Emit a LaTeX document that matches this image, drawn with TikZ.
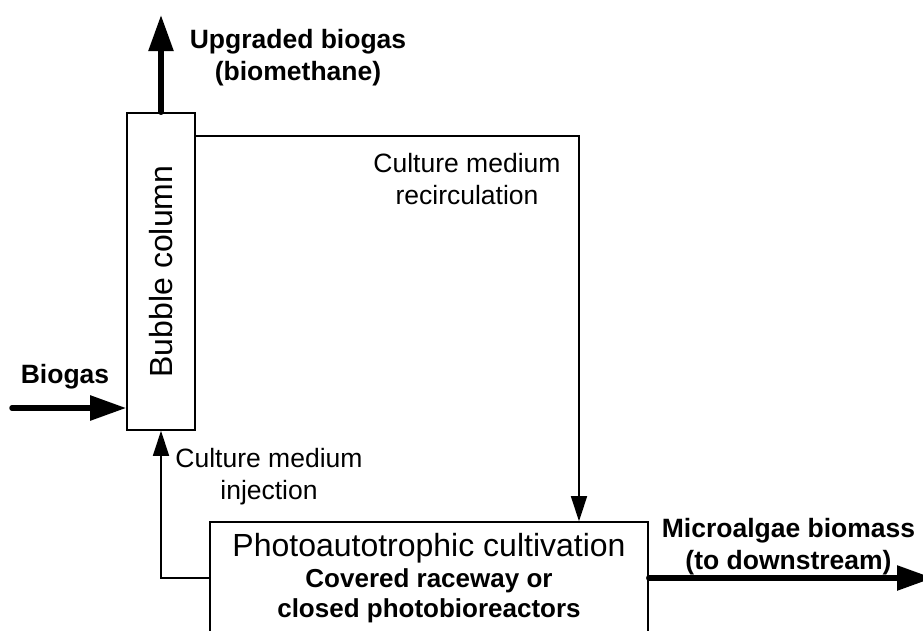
\documentclass[tikz,border=0pt]{standalone}
\usepackage{fontspec}
\setmainfont{Liberation Sans}
\usetikzlibrary{arrows.meta}
\begin{document}
\begin{tikzpicture}[x=1pt,y=-1pt,
  box/.style={draw,line width=1.6pt,inner sep=0pt,fill=white},
  flow/.style={line width=1.6pt,-{Triangle[length=25pt,width=16pt]}},
  mainflow/.style={line width=5.5pt,line cap=round,-{Triangle[length=36pt,width=24pt]}},
  lbl/.style={align=center,inner sep=0pt,font=\fontsize{26.5}{32}\selectfont},
  blbl/.style={align=center,inner sep=0pt,font=\fontsize{26.5}{32}\selectfont\bfseries}]
\useasboundingbox (0,0) rectangle (923,630);

% process units
\node[box,minimum width=68pt,minimum height=317pt] (bubble) at (161,271.5)
  {\rotatebox{90}{\fontsize{32}{38}\selectfont Bubble column}};
\node[box,minimum width=438pt,minimum height=200pt] (photo) at (429,622) {};
\node[inner sep=0pt,font=\fontsize{32}{38}\selectfont] (phototitle) at (429,548.5)
  {Photoautotrophic cultivation};
\node[align=center,inner sep=0pt,font=\fontsize{26}{30}\selectfont\bfseries] (photosub) at (429,595.5)
  {Covered raceway or\\closed photobioreactors};

% stream end points
\coordinate (upout) at (161,15);
\coordinate (bgin) at (12,408);
\coordinate (rc) at (579,136);
\coordinate (ij) at (161,578);
\coordinate (mout) at (933,578);

% streams
\draw[mainflow] (bubble.north) -- (upout);
\draw[mainflow] (bgin) -- (bgin -| bubble.west);
\draw[flow] (rc -| bubble.east) -- (rc) -- (rc |- photo.north);
\draw[flow] (ij -| photo.west) -- (ij) -- (bubble.south);
\draw[mainflow] (photo.east |- mout) -- (mout);

% stream labels
\node[blbl] (upl) at (298,58) {Upgraded biogas\\(biomethane)};
\node[blbl] (bgl) at (65,376.5) {Biogas};
\node[lbl] (rcl) at (467,179.5) {Culture medium\\recirculation};
\node[lbl] (ijl) at (269,476.5) {Culture medium\\injection};
\node[blbl] (ml) at (788.5,546.5) {Microalgae biomass\\(to downstream)};
\end{tikzpicture}
\end{document}
